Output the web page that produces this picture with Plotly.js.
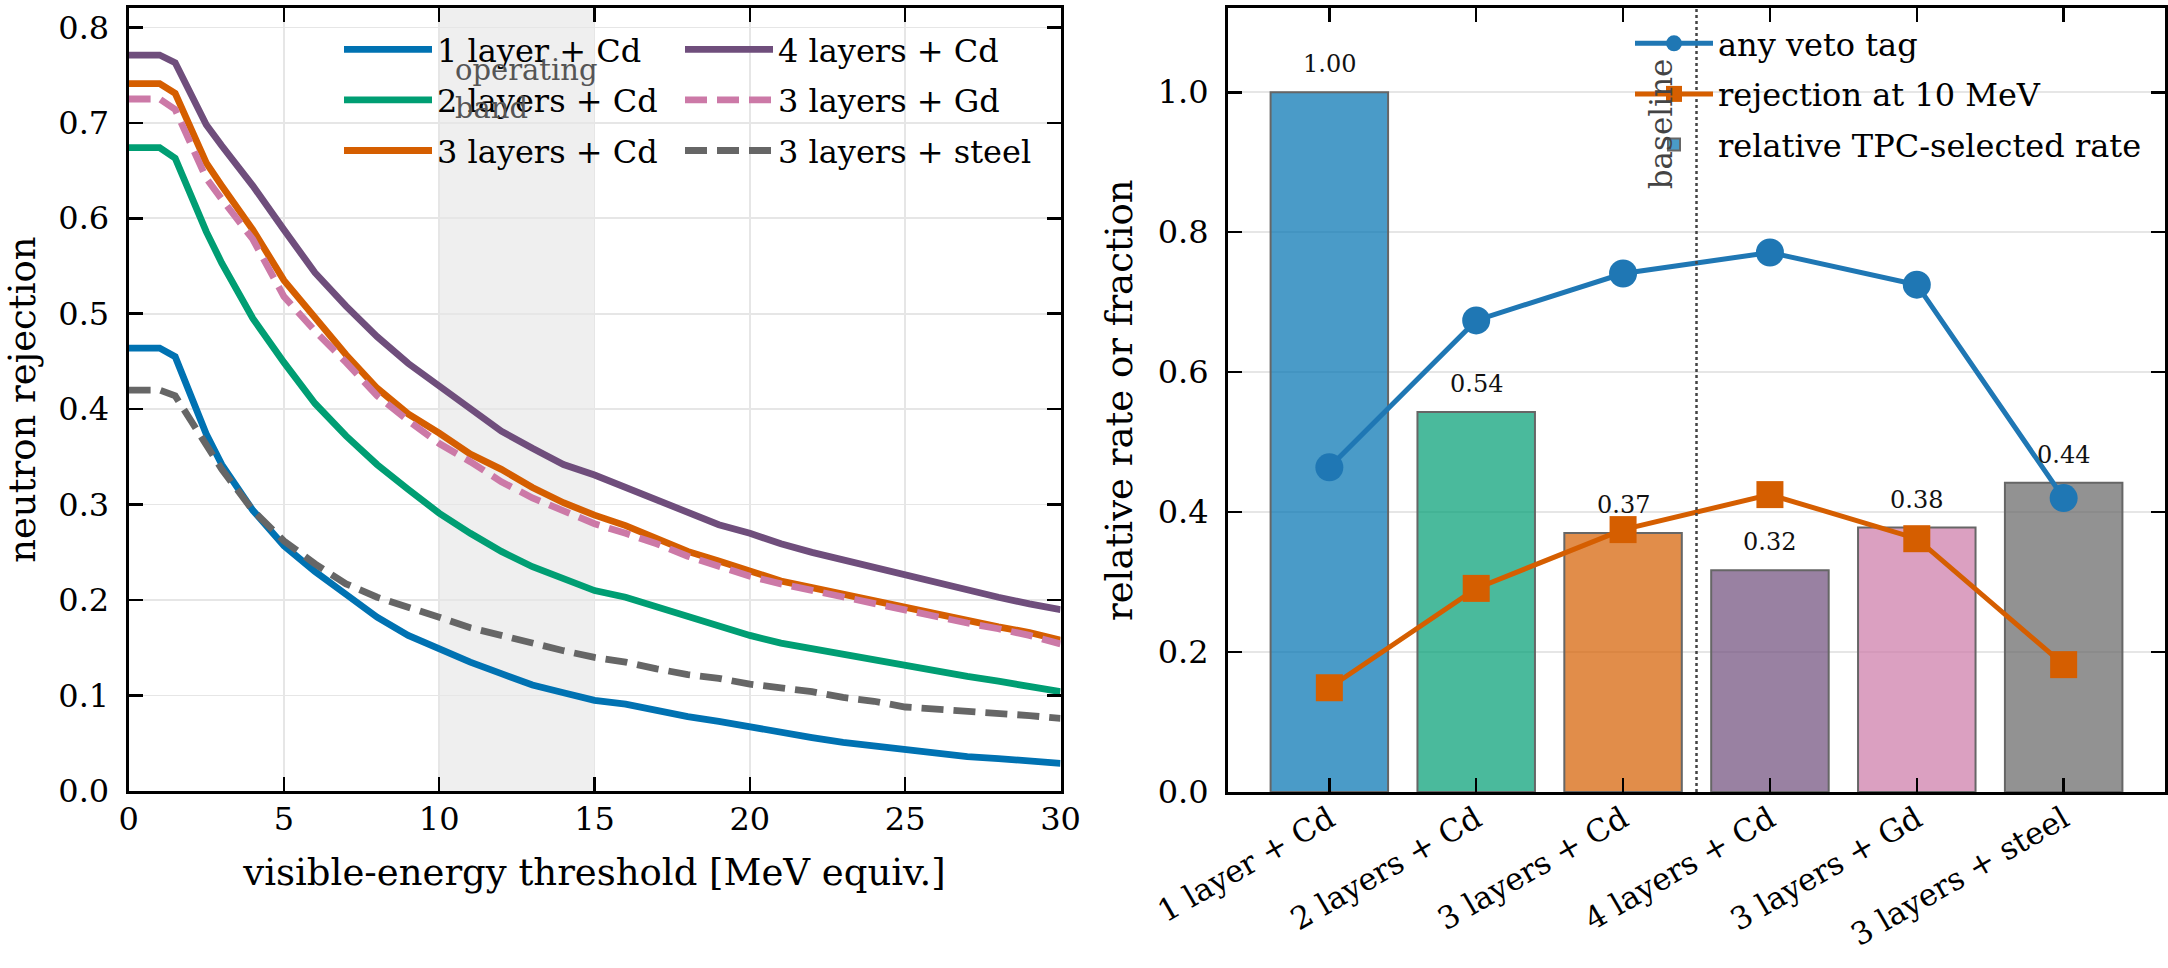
<!DOCTYPE html>
<html>
<head>
<meta charset="utf-8">
<script src="https://cdn.plot.ly/plotly-3.0.1.min.js"></script>
<style>html,body{margin:0;padding:0;background:#fff;}#chart{width:2168px;height:968px;}</style>
</head>
<body>
<div id="chart"></div>
<script>
// ---------- data ----------
const THRESHOLD_MEV = [0, 1, 1.5, 2.5, 3, 4, 5, 6, 7, 8, 9, 10, 11, 12, 13, 14, 15,
  16, 17, 18, 19, 20, 21, 22, 23, 24, 25, 26, 27, 28, 29, 30];

const REJ_1L_CD = [0.464, 0.464, 0.455, 0.374, 0.342, 0.294, 0.257, 0.230, 0.206, 0.182, 0.163, 0.149,
  0.135, 0.123, 0.111, 0.103, 0.095, 0.091, 0.084, 0.078, 0.073, 0.067, 0.061, 0.056, 0.051, 0.047,
  0.043, 0.039, 0.036, 0.034, 0.032, 0.029];
const REJ_2L_CD = [0.674, 0.674, 0.663, 0.586, 0.553, 0.495, 0.449, 0.406, 0.372, 0.342, 0.316, 0.291,
  0.270, 0.251, 0.235, 0.222, 0.210, 0.203, 0.193, 0.182, 0.172, 0.163, 0.155, 0.149, 0.143, 0.137,
  0.132, 0.126, 0.120, 0.115, 0.110, 0.104];
const REJ_3L_CD = [0.741, 0.741, 0.731, 0.658, 0.634, 0.588, 0.535, 0.495, 0.457, 0.422, 0.395, 0.375,
  0.353, 0.337, 0.318, 0.302, 0.289, 0.278, 0.265, 0.251, 0.241, 0.230, 0.220, 0.213, 0.206, 0.199,
  0.193, 0.186, 0.179, 0.172, 0.166, 0.158];
const REJ_4L_CD = [0.771, 0.771, 0.763, 0.698, 0.676, 0.634, 0.588, 0.543, 0.508, 0.476, 0.448, 0.425,
  0.401, 0.377, 0.359, 0.342, 0.331, 0.318, 0.305, 0.291, 0.279, 0.270, 0.259, 0.250, 0.242, 0.234,
  0.226, 0.218, 0.211, 0.203, 0.196, 0.190];
const REJ_3L_GD = [0.725, 0.725, 0.714, 0.642, 0.620, 0.578, 0.518, 0.482, 0.449, 0.414, 0.388, 0.364,
  0.345, 0.324, 0.307, 0.294, 0.280, 0.270, 0.259, 0.246, 0.236, 0.225, 0.217, 0.210, 0.203, 0.196,
  0.190, 0.183, 0.176, 0.170, 0.163, 0.154];
const REJ_3L_STEEL = [0.420, 0.420, 0.414, 0.364, 0.337, 0.294, 0.262, 0.238, 0.217, 0.203, 0.193, 0.182,
  0.171, 0.163, 0.154, 0.147, 0.140, 0.135, 0.128, 0.122, 0.118, 0.112, 0.108, 0.104, 0.098, 0.094,
  0.088, 0.086, 0.084, 0.082, 0.079, 0.076];

const CONFIGS = ['1 layer + Cd', '2 layers + Cd', '3 layers + Cd', '4 layers + Cd', '3 layers + Gd', '3 layers + steel'];
const ANY_VETO_TAG = [0.464, 0.674, 0.741, 0.771, 0.725, 0.420];
const REJECTION_10MEV = [0.149, 0.291, 0.375, 0.425, 0.362, 0.182];
const REL_TPC_RATE = [1.00, 0.543, 0.370, 0.317, 0.378, 0.442];

const OPERATING_BAND = [10, 15];
const LEFT_Y_TICKS = [0, 0.1, 0.2, 0.3, 0.4, 0.5, 0.6, 0.7, 0.8];
const LEFT_X_TICKS = [0, 5, 10, 15, 20, 25, 30];
const RIGHT_Y_TICKS = [0, 0.2, 0.4, 0.6, 0.8, 1.0];

// ---------- styling ----------
const FONT = 'DejaVu Serif';
const COLORS = ['#0072B2', '#009E73', '#D55E00', '#6F4E7C', '#CC79A7', '#666666'];
const BAR_FILL = ['rgba(0,114,178,0.71)', 'rgba(0,158,115,0.71)', 'rgba(213,94,0,0.71)',
  'rgba(111,78,124,0.71)', 'rgba(204,121,167,0.71)', 'rgba(102,102,102,0.71)'];
const W = 2168, H = 968;
const px = v => v / W, py = v => 1 - v / H;

const curveSeries = [
  {name: '1 layer + Cd', y: REJ_1L_CD, color: COLORS[0], dash: 'solid', legend: 'legend'},
  {name: '2 layers + Cd', y: REJ_2L_CD, color: COLORS[1], dash: 'solid', legend: 'legend'},
  {name: '3 layers + Cd', y: REJ_3L_CD, color: COLORS[2], dash: 'solid', legend: 'legend'},
  {name: '4 layers + Cd', y: REJ_4L_CD, color: COLORS[3], dash: 'solid', legend: 'legend2'},
  {name: '3 layers + Gd', y: REJ_3L_GD, color: COLORS[4], dash: '22px,10px', legend: 'legend2'},
  {name: '3 layers + steel', y: REJ_3L_STEEL, color: COLORS[5], dash: '22px,10px', legend: 'legend2'}
];

const traces = curveSeries.map((s, i) => ({
  type: 'scatter', mode: 'lines', x: THRESHOLD_MEV, y: s.y, name: s.name,
  xaxis: 'x', yaxis: 'y', legend: s.legend, legendgroup: 'g' + i,
  line: {color: s.color, width: 6.8, dash: s.dash}
}));

traces.push({
  type: 'bar', x: CONFIGS, y: REL_TPC_RATE, name: 'relative TPC-selected rate',
  xaxis: 'x2', yaxis: 'y2', legend: 'legend3', legendgroup: 'bars', legendrank: 3,
  width: 0.8, marker: {color: BAR_FILL, line: {color: '#666666', width: 2}}
});
traces.push({
  type: 'scatter', mode: 'lines+markers', x: CONFIGS, y: ANY_VETO_TAG, name: 'any veto tag',
  xaxis: 'x2', yaxis: 'y2', legend: 'legend3', legendgroup: 'veto', legendrank: 1,
  line: {color: '#1f77b4', width: 5}, marker: {symbol: 'circle', size: 28, color: '#1f77b4'}
});
traces.push({
  type: 'scatter', mode: 'lines+markers', x: CONFIGS, y: REJECTION_10MEV, name: 'rejection at 10 MeV',
  xaxis: 'x2', yaxis: 'y2', legend: 'legend3', legendgroup: 'rej', legendrank: 2,
  line: {color: '#D55E00', width: 5}, marker: {symbol: 'square', size: 27, color: '#D55E00'}
});

const annotations = REL_TPC_RATE.map((v, i) => ({
  xref: 'x2', yref: 'y2', x: CONFIGS[i], y: v, text: v.toFixed(2), showarrow: false,
  yanchor: 'bottom', yshift: 12, font: {family: FONT, size: 24, color: '#111'}
}));
annotations.push({
  xref: 'x', yref: 'y', x: OPERATING_BAND[0] + 0.45, y: 0.775, xanchor: 'left', yanchor: 'top',
  align: 'left', text: 'operating<br>band', showarrow: false,
  font: {family: FONT, size: 29, color: '#555555'}
});
annotations.push({
  xref: 'x2', yref: 'y2', x: 2.5, y: 0.955, xshift: -36, textangle: -90, text: 'baseline',
  showarrow: false, font: {family: FONT, size: 31, color: '#444444'}
});

const axisCommon = {
  showline: true, linecolor: '#000', linewidth: 3, mirror: 'ticks',
  ticks: 'inside', ticklen: 14, tickwidth: 2.5, tickcolor: '#000',
  tickfont: {family: FONT, size: 32, color: '#000'},
  showgrid: true, gridcolor: '#e6e6e6', gridwidth: 1.6, zeroline: false,
  automargin: false, fixedrange: true
};
const legendCommon = {
  bgcolor: 'rgba(0,0,0,0)', borderwidth: 0, xanchor: 'left', yanchor: 'top',
  font: {family: FONT, size: 32, color: '#000'}, itemwidth: 88, tracegroupgap: 6,
  traceorder: 'grouped'
};

const layout = {
  width: W, height: H, margin: {l: 0, r: 0, t: 0, b: 0},
  paper_bgcolor: '#fff', plot_bgcolor: '#fff',
  font: {family: FONT, color: '#000'},
  xaxis: Object.assign({}, axisCommon, {
    domain: [px(128.6), px(1060.5)], anchor: 'y', range: [0, 30],
    tickvals: LEFT_X_TICKS, ticklabelstandoff: -2,
    title: {text: 'visible-energy threshold [MeV equiv.]', font: {family: FONT, size: 37}, standoff: 22}
  }),
  yaxis: Object.assign({}, axisCommon, {
    domain: [py(791), py(8.3)], anchor: 'x', range: [0, 0.82],
    tickvals: LEFT_Y_TICKS, tickformat: '.1f', ticklabelstandoff: 10,
    title: {text: 'neutron rejection', font: {family: FONT, size: 37}, standoff: 12}
  }),
  xaxis2: Object.assign({}, axisCommon, {
    domain: [px(1228), px(2165)], anchor: 'y2', type: 'category', range: [-0.69, 5.69],
    tickangle: -30, showgrid: false, ticklabelstandoff: -6,
    tickfont: {family: FONT, size: 31, color: '#000'}
  }),
  yaxis2: Object.assign({}, axisCommon, {
    domain: [py(792), py(8.3)], anchor: 'x2', range: [0, 1.12],
    tickvals: RIGHT_Y_TICKS, tickformat: '.1f', ticklabelstandoff: 10,
    title: {text: 'relative rate or fraction', font: {family: FONT, size: 37}, standoff: 14}
  }),
  legend: Object.assign({}, legendCommon, {x: px(339), y: py(22)}),
  legend2: Object.assign({}, legendCommon, {x: px(680), y: py(22)}),
  legend3: Object.assign({}, legendCommon, {x: px(1630), y: py(16), itemwidth: 78}),
  shapes: [
    {type: 'rect', xref: 'x', yref: 'y domain', x0: OPERATING_BAND[0], x1: OPERATING_BAND[1], y0: 0, y1: 1,
     fillcolor: 'rgba(128,128,128,0.13)', line: {width: 0}, layer: 'below'},
    {type: 'line', xref: 'x2', yref: 'y2 domain', x0: 2.5, x1: 2.5, y0: 0, y1: 1,
     line: {color: '#444444', width: 2.5, dash: 'dot'}}
  ],
  annotations: annotations,
  showlegend: true
};

Plotly.newPlot('chart', traces, layout, {displayModeBar: false, staticPlot: true});
</script>
</body>
</html>
